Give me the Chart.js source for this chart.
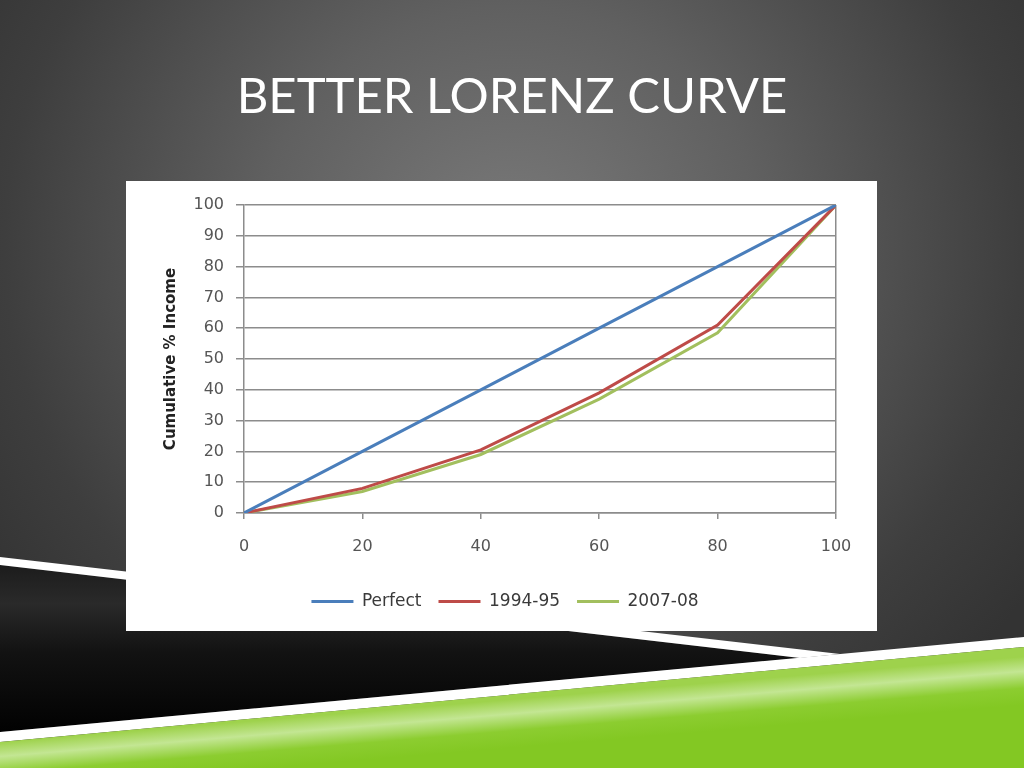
<!DOCTYPE html>
<html>
<head>
<meta charset="utf-8">
<script src="https://cdn.jsdelivr.net/npm/chart.js@4.4.1/dist/chart.umd.min.js"></script>
<style>
  html, body { margin: 0; padding: 0; }
  body {
    width: 1024px; height: 768px; overflow: hidden; position: relative;
    background: radial-gradient(ellipse 62% 78% at 50% 32%, #7a7a7a 0%, #606060 40%, #3e3e3e 80%, #333 100%);
  }
  #deco { position: absolute; left: 0; top: 0; }
  #title {
    position: absolute; left: 0; top: 70px; width: 1024px; text-align: center;
    font-family: Lato, sans-serif; font-size: 49px; line-height: 49px; color: #fff;
  }
  #box {
    position: absolute; left: 126px; top: 181px; width: 751px; height: 450px; background: #fff;
  }
</style>
</head>
<body>
<svg id="deco" width="1024" height="768">
  <defs>
    <linearGradient id="blk" x1="0" y1="565" x2="0" y2="740" gradientUnits="userSpaceOnUse">
      <stop offset="0" stop-color="#1c1c1c"/>
      <stop offset="0.22" stop-color="#2a2a2a"/>
      <stop offset="0.5" stop-color="#121212"/>
      <stop offset="1" stop-color="#000"/>
    </linearGradient>
    <linearGradient id="grn" x1="0" y1="742" x2="4" y2="790" gradientUnits="userSpaceOnUse">
      <stop offset="0" stop-color="#9ed24c"/>
      <stop offset="0.3" stop-color="#c3e693"/>
      <stop offset="0.65" stop-color="#8ccd30"/>
      <stop offset="1" stop-color="#83c823"/>
    </linearGradient>
  </defs>
  <polygon points="0,565 800,658 0,732" fill="url(#blk)"/>
  <polygon points="0,557 840,654 800,658 0,565" fill="#fff"/>
  <polygon points="0,732 1024,637 1024,647 0,742" fill="#fff"/>
  <polygon points="0,742 1024,647 1024,768 0,768" fill="url(#grn)"/>
</svg>
<div id="title">BETTER LORENZ CURVE</div>
<div id="box"><canvas id="chart"></canvas></div>
<script>
// cumulative % of population
const xValues = [0, 20, 40, 60, 80, 100];
// cumulative % of income
const perfect = [0, 20, 40, 60, 80, 100];
const y199495 = [0, 8, 20.5, 39, 61, 100];
const y200708 = [0, 7, 19, 37, 58.5, 100];

const xTicks = [0, 20, 40, 60, 80, 100];
const yTicks = [0, 10, 20, 30, 40, 50, 60, 70, 80, 90, 100];

const toPoints = (ys) => xValues.map((x, i) => ({ x: x, y: ys[i] }));
const gridGray = '#8c8c8c';

// legend sits a bit right of the plot centre in the original
const legendShift = {
  id: 'legendShift',
  afterLayout(chart) {
    chart.legend.left += 12;
    chart.legend.right += 12;
  }
};

new Chart(document.getElementById('chart'), {
  type: 'line',
  data: {
    datasets: [
      { label: 'Perfect', data: toPoints(perfect), borderColor: '#4a7ebb', backgroundColor: '#4a7ebb', borderWidth: 3 },
      { label: '1994-95', data: toPoints(y199495), borderColor: '#be4b48', backgroundColor: '#be4b48', borderWidth: 3 },
      { label: '2007-08', data: toPoints(y200708), borderColor: '#a2bf5e', backgroundColor: '#a2bf5e', borderWidth: 3 }
    ]
  },
  options: {
    responsive: true,
    maintainAspectRatio: false,
    animation: false,
    elements: {
      line: { tension: 0 },
      point: { radius: 0 }
    },
    layout: { padding: { left: 24, right: 41, top: 24, bottom: 11 } },
    scales: {
      x: {
        type: 'linear',
        min: 0, max: 100,
        afterBuildTicks: (s) => { s.ticks = xTicks.map(v => ({ value: v })); },
        afterFit: (s) => { s.height = 63; },
        border: { display: true, color: gridGray, width: 1.5 },
        grid: {
          drawOnChartArea: true,
          tickLength: 6,
          tickColor: gridGray,
          lineWidth: 1.5,
          color: (c) => (c.tick && c.tick.value === 100 ? gridGray : 'rgba(0,0,0,0)')
        },
        ticks: { color: '#555', padding: 18, font: { family: 'DejaVu Sans', size: 16 } }
      },
      y: {
        min: 0, max: 100,
        afterBuildTicks: (s) => { s.ticks = yTicks.map(v => ({ value: v })); },
        afterFit: (s) => { s.width = 94; },
        border: { display: true, color: gridGray, width: 1.5 },
        grid: { color: gridGray, lineWidth: 1.5, tickLength: 8 },
        ticks: { color: '#555', padding: 12, font: { family: 'DejaVu Sans', size: 16 } },
        title: {
          display: true,
          text: 'Cumulative % Income',
          color: '#222',
          padding: { top: 12, bottom: 4 },
          font: { family: 'DejaVu Sans', size: 15, weight: 'bold' }
        }
      }
    },
    plugins: {
      legend: {
        position: 'bottom',
        labels: {
          usePointStyle: true,
          pointStyle: 'line',
          pointStyleWidth: 42,
          padding: 17,
          color: '#3a3a3a',
          font: { family: 'DejaVu Sans', size: 17 }
        }
      },
      tooltip: { enabled: false }
    }
  },
  plugins: [legendShift]
});
</script>
</body>
</html>
